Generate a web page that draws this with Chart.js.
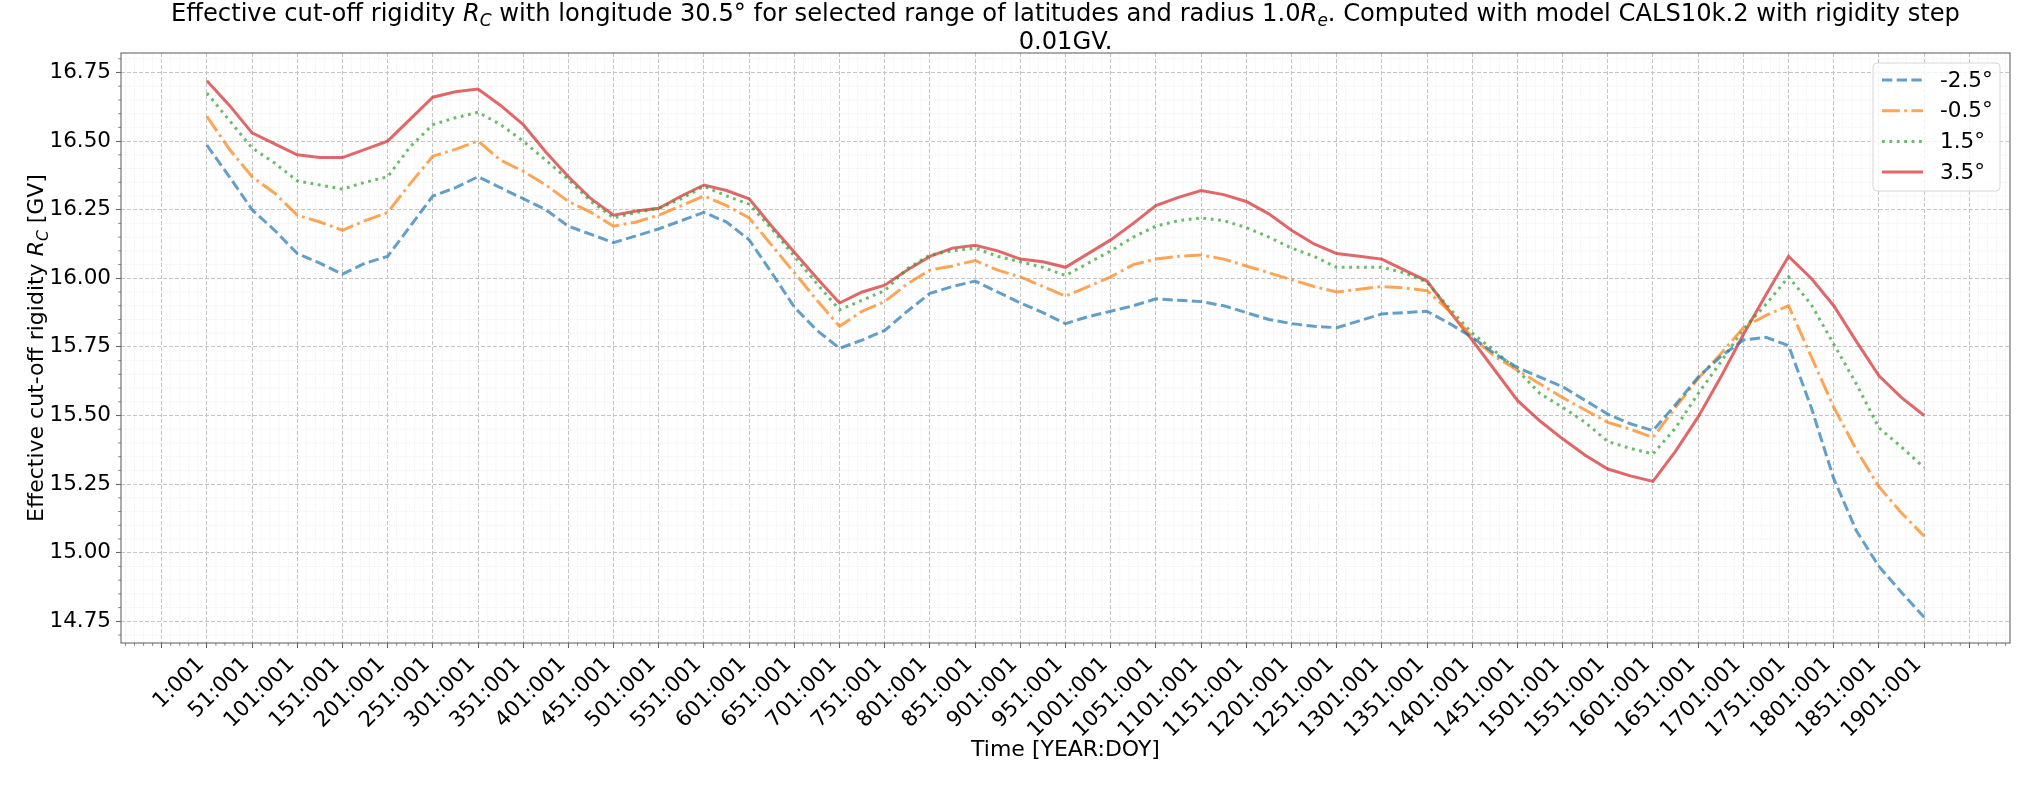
<!DOCTYPE html>
<html>
<head>
<meta charset="utf-8">
<title>Effective cut-off rigidity</title>
<script src="https://cdn.jsdelivr.net/npm/chart.js@4"></script>
<style>
  html, body { margin: 0; padding: 0; background: #fff; }
  #wrap { width: 2039px; height: 785px; }
</style>
</head>
<body>
<div id="wrap"><canvas id="rc"></canvas></div>
<script>
// ═════ DATA ═════
const years = [1, 26, 51, 76, 101, 126, 151, 176, 201, 226, 251, 276,
  301, 326, 351, 376, 401, 426, 451, 476, 501, 526, 551, 576,
  601, 626, 651, 676, 701, 726, 751, 776, 801, 826, 851, 876,
  901, 926, 951, 976, 1001, 1026, 1051, 1076, 1101, 1126, 1151, 1176,
  1201, 1226, 1251, 1276, 1301, 1326, 1351, 1376, 1401, 1426, 1451, 1476,
  1501, 1526, 1551, 1576, 1601, 1626, 1651, 1676, 1701, 1726, 1751, 1776,
  1801, 1826, 1851, 1876, 1901];

const rcM25 = [16.485, 16.37, 16.25, 16.175, 16.09, 16.055, 16.015, 16.055, 16.08, 16.19, 16.30, 16.33,
  16.37, 16.33, 16.29, 16.25, 16.19, 16.16, 16.13, 16.155, 16.18, 16.21, 16.24, 16.205,
  16.14, 16.02, 15.895, 15.81, 15.745, 15.775, 15.81, 15.88, 15.945, 15.97, 15.99, 15.95,
  15.91, 15.875, 15.835, 15.86, 15.88, 15.90, 15.925, 15.92, 15.915, 15.90, 15.875, 15.85,
  15.835, 15.825, 15.82, 15.845, 15.87, 15.875, 15.88, 15.835, 15.785, 15.725, 15.675, 15.64,
  15.605, 15.555, 15.505, 15.47, 15.445, 15.54, 15.64, 15.715, 15.775, 15.785, 15.755, 15.53,
  15.27, 15.08, 14.95, 14.855, 14.765];

const rcM05 = [16.59, 16.47, 16.37, 16.31, 16.23, 16.205, 16.175, 16.21, 16.24, 16.345, 16.445, 16.47,
  16.50, 16.43, 16.39, 16.34, 16.28, 16.24, 16.19, 16.205, 16.23, 16.265, 16.30, 16.265,
  16.22, 16.12, 16.02, 15.92, 15.825, 15.88, 15.915, 15.98, 16.03, 16.045, 16.065, 16.03,
  16.005, 15.97, 15.935, 15.97, 16.005, 16.05, 16.07, 16.08, 16.085, 16.07, 16.045, 16.02,
  15.995, 15.97, 15.95, 15.96, 15.97, 15.965, 15.955, 15.88, 15.785, 15.715, 15.665, 15.615,
  15.565, 15.52, 15.475, 15.45, 15.42, 15.53, 15.635, 15.725, 15.82, 15.865, 15.90, 15.715,
  15.53, 15.375, 15.24, 15.145, 15.06];

const rcP15 = [16.675, 16.575, 16.475, 16.42, 16.355, 16.34, 16.325, 16.35, 16.37, 16.48, 16.56, 16.585,
  16.605, 16.56, 16.50, 16.43, 16.36, 16.28, 16.22, 16.24, 16.255, 16.29, 16.335, 16.30,
  16.27, 16.18, 16.08, 15.98, 15.885, 15.92, 15.955, 16.035, 16.085, 16.10, 16.11, 16.08,
  16.06, 16.04, 16.01, 16.055, 16.10, 16.15, 16.19, 16.21, 16.22, 16.21, 16.185, 16.15,
  16.11, 16.08, 16.04, 16.04, 16.04, 16.02, 15.985, 15.89, 15.80, 15.735, 15.665, 15.58,
  15.53, 15.475, 15.405, 15.38, 15.36, 15.455, 15.58, 15.695, 15.815, 15.905, 16.005, 15.905,
  15.76, 15.615, 15.455, 15.385, 15.31];

const rcP35 = [16.72, 16.63, 16.53, 16.49, 16.45, 16.44, 16.44, 16.47, 16.50, 16.58, 16.66, 16.68,
  16.69, 16.63, 16.56, 16.46, 16.37, 16.29, 16.23, 16.245, 16.255, 16.30, 16.34, 16.32,
  16.29, 16.19, 16.095, 16.00, 15.91, 15.95, 15.975, 16.03, 16.08, 16.11, 16.12, 16.10,
  16.07, 16.06, 16.04, 16.09, 16.14, 16.20, 16.265, 16.295, 16.32, 16.305, 16.28, 16.235,
  16.175, 16.125, 16.09, 16.08, 16.07, 16.03, 15.99, 15.88, 15.775, 15.665, 15.555, 15.48,
  15.415, 15.355, 15.305, 15.28, 15.26, 15.37, 15.495, 15.64, 15.795, 15.94, 16.08, 16.00,
  15.90, 15.77, 15.645, 15.565, 15.50];

const latLabels = ['-2.5°', '-0.5°', '1.5°', '3.5°'];

const xTickLabels = ['1:001', '51:001', '101:001', '151:001', '201:001', '251:001', '301:001',
  '351:001', '401:001', '451:001', '501:001', '551:001', '601:001', '651:001', '701:001',
  '751:001', '801:001', '851:001', '901:001', '951:001', '1001:001', '1051:001', '1101:001',
  '1151:001', '1201:001', '1251:001', '1301:001', '1351:001', '1401:001', '1451:001',
  '1501:001', '1551:001', '1601:001', '1651:001', '1701:001', '1751:001', '1801:001',
  '1851:001', '1901:001'];
const xExtraTicks = [-49, 1951];   // unlabelled ticks at both ends

const yTicks = [14.75, 15.00, 15.25, 15.50, 15.75, 16.00, 16.25, 16.50, 16.75];
const yTickLabels = ['14.75', '15.00', '15.25', '15.50', '15.75', '16.00', '16.25', '16.50', '16.75'];

// ═════ STYLE ═════
const FONT = '"DejaVu Sans"';
const colors = ['rgba(31,119,180,0.7)', 'rgba(255,127,14,0.7)', 'rgba(44,160,44,0.7)', 'rgba(214,39,40,0.7)'];
const dashes = [[10.3, 4.4], [17.8, 4.4, 2.8, 4.4], [2.8, 4.6], []];
const LW = 3;
const SPINE = '#666';

Chart.defaults.font.family = FONT;
Chart.defaults.color = '#000';

const xTickVals = [xExtraTicks[0]].concat(xTickLabels.map(s => parseInt(s, 10)), [xExtraTicks[1]]);

// text with italic / subscript parts (R_C, R_e)
function drawRich(ctx, runs, x, y, size) {
  const fontOf = r => (r.it ? 'italic ' : '') + (r.sub ? size * 0.7 : size) + 'px ' + FONT;
  let w = 0;
  runs.forEach(r => { ctx.font = fontOf(r); r.w = ctx.measureText(r.t).width; w += r.w; });
  let cx = x - w / 2;
  ctx.textAlign = 'left';
  ctx.textBaseline = 'alphabetic';
  runs.forEach(r => {
    ctx.font = fontOf(r);
    ctx.fillText(r.t, cx, y + (r.sub ? size * 0.22 : 0));
    cx += r.w;
  });
}

// ═════ PLUGINS ═════
const minorGrid = {
  id: 'minorGrid',
  beforeDatasetsDraw(chart) {
    const { ctx, chartArea: a, scales: { x, y } } = chart;
    ctx.save();
    ctx.strokeStyle = '#e8e8e8';
    ctx.lineWidth = 0.8;
    ctx.setLineDash([1, 1.2]);
    for (let v = -89; v < x.max; v += 10) {
      if ((v + 49) % 50 === 0) continue;
      const px = x.getPixelForValue(v);
      ctx.beginPath(); ctx.moveTo(px, a.top); ctx.lineTo(px, a.bottom); ctx.stroke();
    }
    for (let k = 0; 14.70 + k * 0.05 < y.max; k++) {
      if ((k - 1) % 5 === 0) continue;
      const py = y.getPixelForValue(14.70 + k * 0.05);
      ctx.beginPath(); ctx.moveTo(a.left, py); ctx.lineTo(a.right, py); ctx.stroke();
    }
    // minor tick marks
    ctx.setLineDash([]);
    ctx.strokeStyle = SPINE;
    ctx.lineWidth = 0.8;
    for (let v = -89; v < x.max; v += 10) {
      if ((v + 49) % 50 === 0) continue;
      const px = x.getPixelForValue(v);
      ctx.beginPath(); ctx.moveTo(px, a.bottom); ctx.lineTo(px, a.bottom + 2.8); ctx.stroke();
    }
    for (let k = 0; 14.70 + k * 0.05 < y.max; k++) {
      if ((k - 1) % 5 === 0) continue;
      const py = y.getPixelForValue(14.70 + k * 0.05);
      ctx.beginPath(); ctx.moveTo(a.left, py); ctx.lineTo(a.left - 2.8, py); ctx.stroke();
    }
    ctx.restore();
  }
};

const frameAndText = {
  id: 'frameAndText',
  afterDatasetsDraw(chart) {
    const { ctx, chartArea: a } = chart;
    ctx.save();
    ctx.strokeStyle = SPINE;
    ctx.lineWidth = 1.1;
    ctx.strokeRect(a.left, a.top, a.right - a.left, a.bottom - a.top);
    ctx.restore();
  },
  afterDraw(chart) {
    const { ctx, chartArea: a } = chart;
    const cx = (a.left + a.right) / 2;
    ctx.save();
    ctx.fillStyle = '#000';
    // title
    drawRich(ctx, [
      { t: 'Effective cut-off rigidity ' }, { t: 'R', it: true }, { t: 'C', it: true, sub: true },
      { t: ' with longitude 30.5° for selected range of latitudes and radius 1.0' },
      { t: 'R', it: true }, { t: 'e', it: true, sub: true },
      { t: '. Computed with model CALS10k.2 with rigidity step' }
    ], cx, 21, 24.2);
    drawRich(ctx, [{ t: '0.01GV.' }], cx, 49, 24.2);
    // y label
    ctx.translate(43, (a.top + a.bottom) / 2);
    ctx.rotate(-Math.PI / 2);
    drawRich(ctx, [
      { t: 'Effective cut-off rigidity ' }, { t: 'R', it: true }, { t: 'C', it: true, sub: true }, { t: ' [GV]' }
    ], 0, 0, 22);
    ctx.restore();

    // legend
    const bx = 1873, by = 63, bw = 127, bh = 128;
    ctx.save();
    ctx.fillStyle = 'rgba(255,255,255,0.8)';
    ctx.strokeStyle = '#d6d6d6';
    ctx.lineWidth = 1;
    ctx.beginPath();
    ctx.roundRect(bx, by, bw, bh, 4);
    ctx.fill(); ctx.stroke();
    chart.data.datasets.forEach((ds, i) => {
      const ly = 80 + i * 30.7;
      ctx.strokeStyle = ds.borderColor;
      ctx.lineWidth = LW;
      ctx.lineCap = 'butt';
      ctx.setLineDash(ds.borderDash);
      ctx.beginPath(); ctx.moveTo(1882, ly); ctx.lineTo(1923, ly); ctx.stroke();
      ctx.setLineDash([]);
      ctx.fillStyle = '#000';
      ctx.font = '21.5px ' + FONT;
      ctx.textAlign = 'left';
      ctx.textBaseline = 'middle';
      ctx.fillText(ds.label, 1940, ly + 1);
    });
    ctx.restore();
  }
};

// ═════ CHART ═════
const series = [rcM25, rcM05, rcP15, rcP35];

new Chart(document.getElementById('rc'), {
  type: 'line',
  data: {
    datasets: series.map((s, i) => ({
      label: latLabels[i],
      data: years.map((yr, j) => ({ x: yr, y: s[j] })),
      borderColor: colors[i],
      borderWidth: LW,
      borderDash: dashes[i],
      borderCapStyle: 'butt',
      pointRadius: 0,
      fill: false,
      tension: 0
    }))
  },
  options: {
    responsive: true,
    maintainAspectRatio: false,
    animation: false,
    events: [],
    layout: { padding: { left: 0, right: 29, top: 53, bottom: 0 } },
    plugins: { legend: { display: false }, tooltip: { enabled: false }, title: { display: false } },
    scales: {
      x: {
        type: 'linear',
        min: -94, max: 1996,
        afterBuildTicks: ax => { ax.ticks = xTickVals.map(v => ({ value: v })); },
        afterFit: ax => { ax.height = 142; },
        ticks: {
          autoSkip: false, minRotation: 45, maxRotation: 45, padding: 4, labelOffset: -6,
          font: { size: 21.5 }, color: '#000',
          callback: v => { const i = xTickLabels.findIndex(s => parseInt(s, 10) === v); return i < 0 ? '' : xTickLabels[i]; }
        },
        grid: { color: '#c4c4c4', lineWidth: 1, tickColor: SPINE, tickLength: 5, tickWidth: 1.1, tickBorderDash: [] },
        border: { display: false, dash: [4, 2] },
        title: { display: true, text: 'Time [YEAR:DOY]', font: { size: 22 }, color: '#000', padding: { top: 0, bottom: 22 } }
      },
      y: {
        type: 'linear',
        min: 14.671, max: 16.821,
        afterBuildTicks: ax => { ax.ticks = yTicks.map(v => ({ value: v })); },
        afterFit: ax => { ax.width = 121; },
        ticks: {
          padding: 5, font: { size: 21.5 }, color: '#000',
          callback: (v, i) => yTickLabels[i]
        },
        grid: { color: '#c4c4c4', lineWidth: 1, tickColor: SPINE, tickLength: 5, tickWidth: 1.1, tickBorderDash: [] },
        border: { display: false, dash: [4, 2] }
      }
    }
  },
  plugins: [minorGrid, frameAndText]
});
</script>
</body>
</html>
